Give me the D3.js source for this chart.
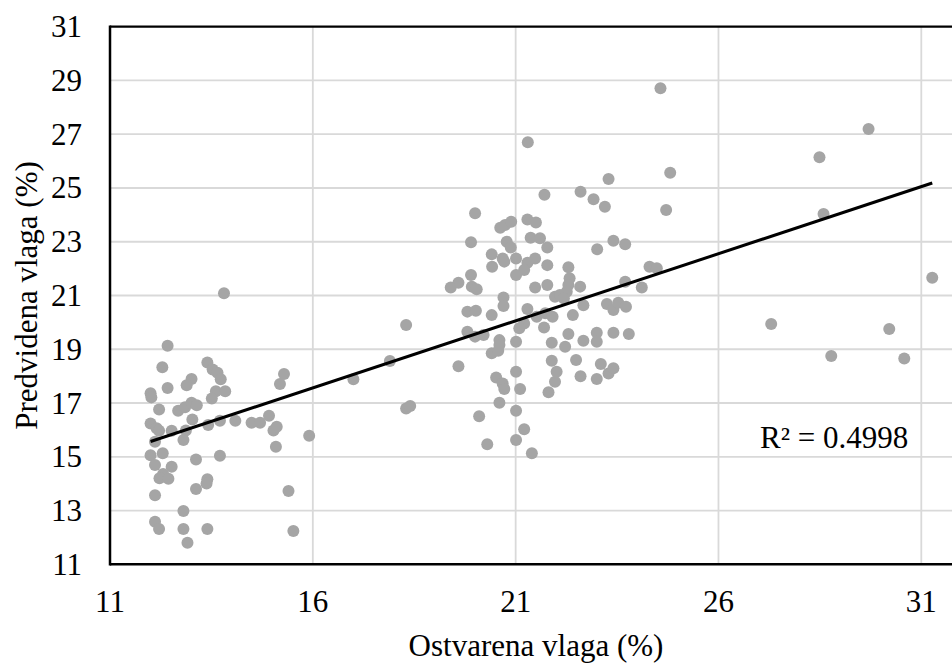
<!DOCTYPE html>
<html>
<head>
<meta charset="utf-8">
<script src="https://cdn.jsdelivr.net/npm/d3@7/dist/d3.min.js"></script>
<style>
  html, body { margin: 0; padding: 0; background: #fff; }
  svg { display: block; }
  text { font-family: "Liberation Serif", "Times New Roman", serif; fill: #000; }
</style>
</head>
<body>
<svg id="chart" width="952" height="664"></svg>
<script>
// ---- data ----
const xTicks = [11, 16, 21, 26, 31];
const yTicks = [11, 13, 15, 17, 19, 21, 23, 25, 27, 29, 31];
const xTitle = "Ostvarena vlaga (%)";
const yTitle = "Predvidena vlaga (%)";
const r2Label = "R² = 0.4998";
const trendSlope = 0.499;
const trendIntercept = 9.58;

const ostvarena = [
  12.42,12.29,13.40,13.53,13.65,13.73,13.01,12.89,12.42,12.00,12.02,13.61,13.84,13.51,12.21,12.68,12.85,13.01,13.14,
  12.00,12.15,12.21,12.52,12.87,13.03,13.42,13.71,14.09,14.49,14.70,14.92,15.03,15.11,15.09,15.19,15.29,15.91,12.81,
  12.11,12.00,12.30,13.12,13.71,12.11,12.52,12.31,12.22,12.44,13.40,13.38,13.12,12.11,15.40,12.81,12.11,12.21,12.81,
  13.40,12.91,15.52,13.81,
  17.00,17.90,18.30,18.30,18.40,19.59,
  21.71,20.00,20.62,20.74,20.89,21.29,21.50,19.90,20.78,20.88,21.37,21.60,21.78,20.41,20.68,20.72,21.01,20.42,21.48,
  21.29,21.21,21.01,21.78,19.90,19.59,19.40,19.92,20.04,21.48,21.78,21.97,20.70,20.70,19.81,20.02,20.41,21.29,21.52,
  21.73,21.91,21.21,21.09,21.70,19.81,20.00,20.21,20.60,20.60,21.01,20.41,20.57,21.89,21.89,21.01,20.52,20.68,20.72,
  21.11,21.81,22.01,21.97,20.60,21.01,20.10,21.21,21.01,20.30,21.40,
  22.60,22.92,23.20,24.71,23.41,23.70,23.01,22.30,22.33,22.30,22.26,22.09,22.19,22.59,23.70,24.11,24.30,24.48,22.67,
  22.41,23.25,23.41,23.53,23.72,22.30,22.67,23.00,23.00,23.41,23.79,22.22,22.49,22.60,23.10,23.29,23.41,23.00,
  21.30,23.29,
  27.30,28.78,30.21,30.58,31.27,24.57,24.81,29.70,28.49,28.59
];
const predvidena = [
  19.13,18.33,18.51,18.25,18.13,17.88,17.89,17.66,17.56,17.36,17.21,17.44,17.44,17.17,16.76,16.71,16.84,17.01,16.92,
  16.24,16.06,15.97,15.97,15.98,16.39,16.18,16.34,16.34,16.27,16.27,16.53,15.98,16.12,15.37,17.71,18.08,15.78,15.62,
  15.56,15.06,15.13,14.90,15.04,14.69,14.63,14.36,14.20,14.18,14.16,14.01,13.80,13.57,13.73,12.98,12.58,12.31,12.31,
  12.31,11.80,12.24,21.08,
  17.88,18.56,19.90,16.80,16.89,18.37,
  24.75,24.06,23.52,23.62,23.74,23.83,23.72,22.98,23.00,22.79,23.15,23.13,22.79,22.53,22.38,22.26,22.38,22.07,22.38,
  22.22,21.95,21.76,22.13,21.76,21.47,21.30,21.33,21.23,21.30,21.39,20.95,20.93,20.61,20.40,20.43,20.27,20.50,20.21,
  20.34,20.21,19.96,19.78,19.81,19.65,19.47,19.53,19.34,19.16,19.28,18.85,18.94,19.24,18.57,18.16,17.95,17.73,17.52,
  17.52,17.40,18.16,17.79,17.01,16.71,16.51,16.02,15.62,15.47,15.13,
  24.86,24.58,24.30,24.18,23.04,22.91,22.72,22.05,21.64,21.39,21.14,21.02,20.89,21.33,21.51,21.30,22.07,22.01,20.64,
  20.27,20.68,20.46,20.73,20.58,19.57,19.32,19.61,19.28,19.61,19.57,19.09,18.60,18.00,18.45,18.10,18.29,17.89,
  26.70,25.33,
  19.94,18.75,19.75,18.66,21.66,28.71,25.57,27.19,26.14,24.03
];

(function () {
  // ---- layout ----
  const pLeft = 110, pTop = 26.7, pBottom = 564.3;
  const x31 = 921.3;     // pixel of x = 31
  const pRight = 962;    // plot area continues past the visible edge

  const svg = d3.select("#chart");
  const x = d3.scaleLinear().domain([11, 31]).range([pLeft, x31]);
  const y = d3.scaleLinear().domain([11, 31]).range([pBottom, pTop]);

  // gridlines
  const grid = svg.append("g");
  grid.selectAll("line.h").data(yTicks.filter(t => t > 11 && t < 31)).join("line")
    .attr("class", "h")
    .attr("x1", pLeft).attr("x2", pRight)
    .attr("y1", d => y(d)).attr("y2", d => y(d))
    .attr("stroke", "#d9d9d9").attr("stroke-width", 1.8);
  grid.selectAll("line.v").data(xTicks.filter(t => t > 11)).join("line")
    .attr("class", "v")
    .attr("x1", d => x(d)).attr("x2", d => x(d))
    .attr("y1", pTop).attr("y2", pBottom)
    .attr("stroke", "#d9d9d9").attr("stroke-width", 1.8);

  // points
  const pts = ostvarena.map((v, i) => [v, predvidena[i]]);
  svg.append("g").selectAll("circle").data(pts).join("circle")
    .attr("cx", d => x(d[0])).attr("cy", d => y(d[1]))
    .attr("r", 6).attr("fill", "#a5a5a5");

  // trendline
  const ext = d3.extent(ostvarena);
  svg.append("path")
    .datum(ext.map(v => [v, trendSlope * v + trendIntercept]))
    .attr("d", d3.line().x(d => x(d[0])).y(d => y(d[1])))
    .attr("stroke", "#000").attr("stroke-width", 3).attr("fill", "none");

  // plot border (top, left, bottom)
  svg.append("line").attr("x1", pLeft).attr("x2", pRight).attr("y1", y(31)).attr("y2", y(31))
    .attr("stroke", "#000").attr("stroke-width", 2.2);
  svg.append("line").attr("x1", pLeft).attr("x2", pRight).attr("y1", y(11)).attr("y2", y(11))
    .attr("stroke", "#000").attr("stroke-width", 2.5);
  svg.append("line").attr("x1", pLeft).attr("x2", pLeft).attr("y1", y(31) - 1.1).attr("y2", y(11) + 1.25)
    .attr("stroke", "#000").attr("stroke-width", 2.5);

  // tick labels
  svg.append("g").selectAll("text").data(yTicks).join("text")
    .attr("x", 82).attr("y", d => y(d) + 10.5)
    .attr("text-anchor", "end").attr("font-size", 31)
    .text(d => d);
  svg.append("g").selectAll("text").data(xTicks).join("text")
    .attr("x", d => x(d)).attr("y", 612)
    .attr("text-anchor", "middle").attr("font-size", 31)
    .text(d => d);

  // axis titles
  svg.append("text").attr("x", 536).attr("y", 656)
    .attr("text-anchor", "middle").attr("font-size", 31).text(xTitle);
  svg.append("text").attr("transform", `translate(37,${(pTop + pBottom) / 2}) rotate(-90)`)
    .attr("text-anchor", "middle").attr("font-size", 31).text(yTitle);

  // R² label
  svg.append("text").attr("x", 760).attr("y", 448)
    .attr("font-size", 31).text(r2Label);
})();
</script>
</body>
</html>
